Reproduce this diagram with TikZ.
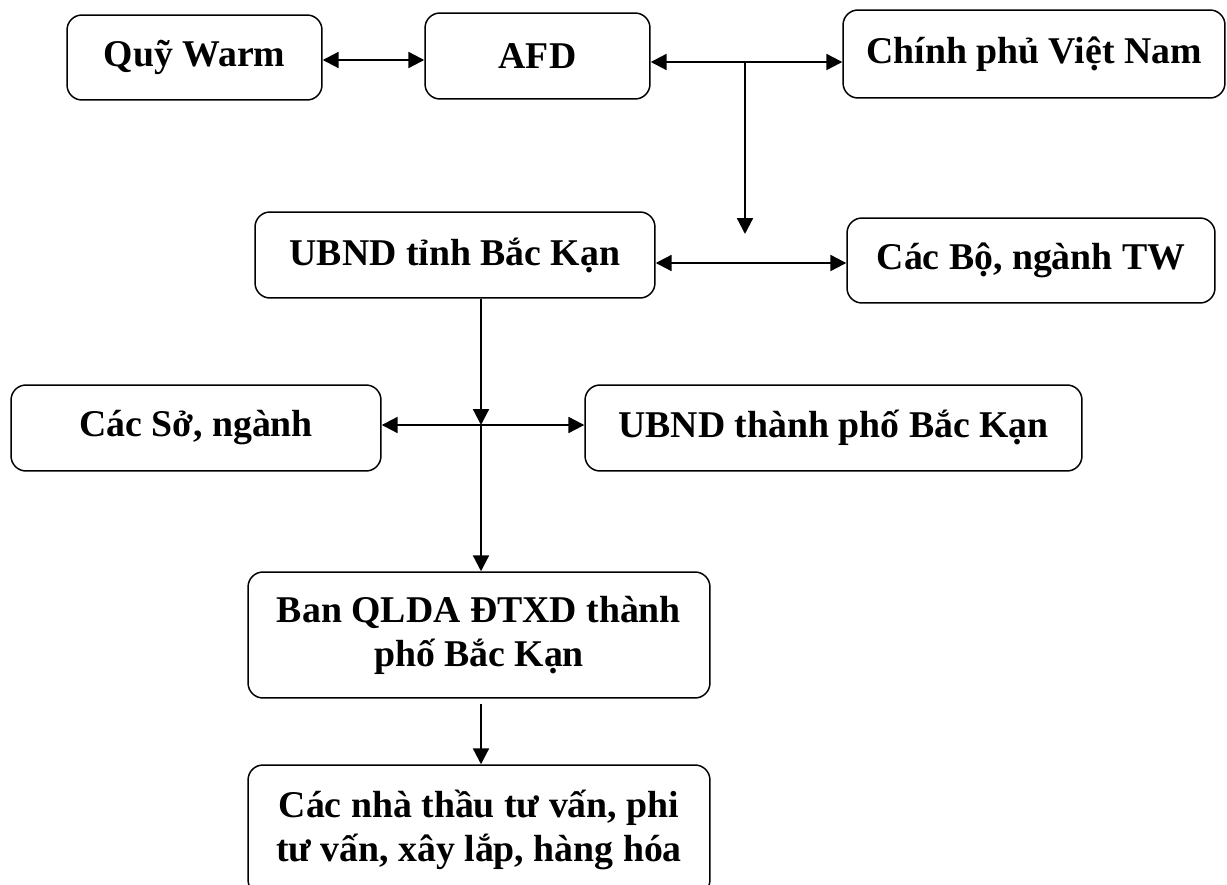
\documentclass[tikz,border=0pt]{standalone}
\usepackage{fontspec}
\setmainfont{Liberation Serif}
\usetikzlibrary{positioning, arrows.meta, calc}

\begin{document}
\begin{tikzpicture}[x=0.02cm, y=-0.02cm,
    box/.style={draw, line width=0.85pt, rounded corners=0.3cm, inner sep=0pt,
      align=center, font=\bfseries\fontsize{21.5}{25}\selectfont},
    link/.style={line width=1.25pt, -{Triangle[length=9pt, width=9pt]}},
    both/.style={line width=1.25pt, {Triangle[length=9pt, width=9pt]}-{Triangle[length=9pt, width=9pt]}}]
  \useasboundingbox (0,0) rectangle (1227,885);
  \clip (0,0) rectangle (1227,885);
  \node[box, minimum width=5.1cm, minimum height=1.7cm] (qwarm) at (194.5,57.5) {Quỹ Warm};
  \node[box, minimum width=4.5cm, minimum height=1.72cm] (afd) at (537.5,56) {AFD};
  \node[box, minimum width=7.64cm, minimum height=1.76cm] (cpvn) at (1034,54) {Chính phủ Việt Nam};
  \node[box, minimum width=8cm, minimum height=1.72cm] (ubndt) at (455,255) {UBND tỉnh Bắc Kạn};
  \node[box, minimum width=7.36cm, minimum height=1.7cm] (cacbo) at (1031,260.5) {Các Bộ, ngành TW};
  \node[box, minimum width=7.4cm, minimum height=1.72cm] (cacso) at (196,428) {Các Sở, ngành};
  \node[box, minimum width=9.94cm, minimum height=1.72cm] (ubndtp) at (833.5,428) {UBND thành phố Bắc Kạn};
  \node[box, minimum width=9.24cm, minimum height=2.52cm] (banql) at (479,635) {Ban QLDA ĐTXD thành\\phố Bắc Kạn};
  \node[box, minimum width=9.24cm, minimum height=2.6cm] (nhathau) at (479,830) {Các nhà thầu tư vấn, phi\\tư vấn, xây lắp, hàng hóa};
  % junctions
  \coordinate (j1) at (745,62);
  \coordinate (j1end) at (745,234);
  \coordinate (j2) at (481,425);
  \coordinate (j3) at (0,263);
  \draw[both] (qwarm.east |- 0,60) -- (afd.west |- 0,60);
  \draw[both] (afd.east |- j1) -- (cpvn.west |- j1);
  \draw[link] (j1) -- (j1end);
  \draw[both] (ubndt.east |- j3) -- (cacbo.west |- j3);
  \draw[link] (ubndt.south -| j2) -- (j2);
  \draw[both] (cacso.east |- j2) -- (ubndtp.west |- j2);
  \draw[link] (j2) -- (banql.north -| j2);
  \draw[link, shorten <=0.1cm] (banql.south -| j2) -- (nhathau.north -| j2);
\end{tikzpicture}
\end{document}
